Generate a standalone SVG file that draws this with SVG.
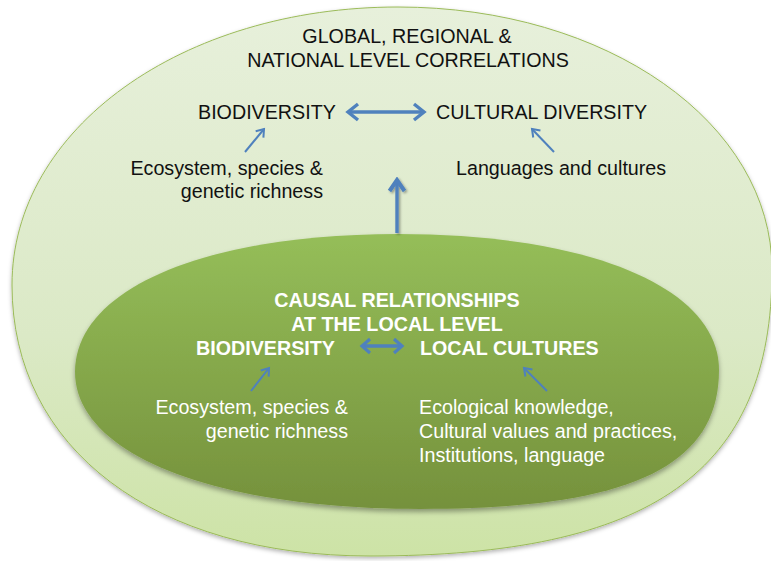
<svg xmlns="http://www.w3.org/2000/svg" width="771" height="561" viewBox="0 0 771 561">
  <defs>
    <linearGradient id="gOuter" x1="0" y1="0" x2="0" y2="1">
      <stop offset="0" stop-color="#e7f0db"/>
      <stop offset="0.6" stop-color="#dbe9c6"/>
      <stop offset="1" stop-color="#cde3a6"/>
    </linearGradient>
    <linearGradient id="gInner" x1="0" y1="0" x2="0" y2="1">
      <stop offset="0" stop-color="#95be59"/>
      <stop offset="1" stop-color="#75913c"/>
    </linearGradient>
    <filter id="shOuter" x="-5%" y="-5%" width="110%" height="115%">
      <feDropShadow dx="0" dy="2" stdDeviation="2" flood-color="#000" flood-opacity="0.3"/>
    </filter>
    <filter id="shInner" x="-5%" y="-5%" width="110%" height="120%">
      <feDropShadow dx="0" dy="3" stdDeviation="2.5" flood-color="#000" flood-opacity="0.35"/>
    </filter>
    <filter id="shArrow" filterUnits="userSpaceOnUse" x="370" y="160" width="55" height="85">
      <feDropShadow dx="1.5" dy="1.5" stdDeviation="1.2" flood-color="#000" flood-opacity="0.35"/>
    </filter>
    <marker id="headBig" markerUnits="userSpaceOnUse" markerWidth="16" markerHeight="22" viewBox="-13 -11 16 22" refX="0" refY="0" orient="auto-start-reverse">
      <path d="M-10,-8 L0,0 L-10,8" fill="none" stroke="#4f81bd" stroke-width="3.4"/>
    </marker>
    <marker id="headMid" markerUnits="userSpaceOnUse" markerWidth="14" markerHeight="20" viewBox="-11 -10 14 20" refX="0" refY="0" orient="auto-start-reverse">
      <path d="M-8,-7 L0,0 L-8,7" fill="none" stroke="#4f81bd" stroke-width="3.2"/>
    </marker>
    <marker id="headSmall" markerUnits="userSpaceOnUse" markerWidth="12" markerHeight="14" viewBox="-9 -7 12 14" refX="0" refY="0" orient="auto">
      <path d="M-7,-5 L0,0 L-7,5" fill="none" stroke="#4f81bd" stroke-width="2"/>
    </marker>
    <marker id="headUp" markerUnits="userSpaceOnUse" markerWidth="18" markerHeight="22" viewBox="-15 -11 18 22" refX="0" refY="0" orient="auto">
      <path d="M-11,-7.5 L0,0 L-11,7.5" fill="none" stroke="#4f81bd" stroke-width="4"/>
    </marker>
    <style>
      .t { font-family: "Liberation Sans", Arial, sans-serif; font-size: 19.7px; }
      .dark { fill: #111111; }
      .light { fill: #ffffff; }
      .b { font-weight: bold; }
      .mid { text-anchor: middle; }
      .end { text-anchor: end; }
      .big { fill: none; stroke: #4f81bd; stroke-width: 3.4; }
      .small { fill: none; stroke: #4f81bd; stroke-width: 2; }
    </style>
  </defs>

  <rect x="0" y="0" width="771" height="561" fill="#ffffff"/>

  <g id="outer-level">
    <path d="M398,7 C607,7 772,123 772,270 C772,472 651,556 370,556 C155,556 12,449 12,285 C12,129 182,7 398,7 Z" fill="url(#gOuter)" stroke="#9bbb59" stroke-width="1" filter="url(#shOuter)"/>
    <text class="t dark mid" x="407" y="43">GLOBAL, REGIONAL &amp;</text>
    <text class="t dark mid" x="408" y="67">NATIONAL LEVEL CORRELATIONS</text>
  </g>

  <g id="global-biodiversity">
    <text class="t dark" x="198" y="119">BIODIVERSITY</text>
  </g>
  <g id="cultural-diversity">
    <text class="t dark" x="436" y="119">CULTURAL DIVERSITY</text>
  </g>
  <g id="global-richness">
    <text class="t dark end" x="323" y="175">Ecosystem, species &amp;</text>
    <text class="t dark end" x="323" y="198">genetic richness</text>
  </g>
  <g id="languages-cultures">
    <text class="t dark" x="456" y="175">Languages and cultures</text>
  </g>

  <g id="local-level">
    <path d="M398,234 C591,234 719,288 719,370 C719,467 629,509 420,509 C213,509 75,454 75,372 C75,289 204,234 398,234 Z" fill="url(#gInner)" filter="url(#shInner)"/>
    <text class="t light b mid" x="397" y="307">CAUSAL RELATIONSHIPS</text>
    <text class="t light b mid" x="397" y="331">AT THE LOCAL LEVEL</text>
  </g>

  <g id="local-biodiversity">
    <text class="t light b" x="196" y="355">BIODIVERSITY</text>
  </g>
  <g id="local-cultures">
    <text class="t light b" x="420" y="355">LOCAL CULTURES</text>
  </g>
  <g id="local-richness">
    <text class="t light end" x="348" y="414">Ecosystem, species &amp;</text>
    <text class="t light end" x="348" y="438">genetic richness</text>
  </g>
  <g id="local-knowledge">
    <text class="t light" x="419" y="414">Ecological knowledge,</text>
    <text class="t light" x="419" y="438">Cultural values and practices,</text>
    <text class="t light" x="419" y="462">Institutions, language</text>
  </g>

  <g id="connectors">
    <line class="big" x1="348" y1="112" x2="424" y2="112" marker-start="url(#headBig)" marker-end="url(#headBig)"/>
    <line class="small" x1="245" y1="152" x2="264" y2="129" marker-end="url(#headSmall)"/>
    <line class="small" x1="554" y1="152" x2="532" y2="129" marker-end="url(#headSmall)"/>
    <g filter="url(#shArrow)">
      <line class="big" x1="397" y1="233" x2="397" y2="180" stroke-width="4" marker-end="url(#headUp)"/>
    </g>
    <line class="big" x1="362" y1="346" x2="402" y2="346" stroke-width="3.2" marker-start="url(#headMid)" marker-end="url(#headMid)"/>
    <line class="small" x1="251" y1="391" x2="269" y2="368" marker-end="url(#headSmall)"/>
    <line class="small" x1="547" y1="391" x2="524" y2="368" marker-end="url(#headSmall)"/>
  </g>
</svg>
